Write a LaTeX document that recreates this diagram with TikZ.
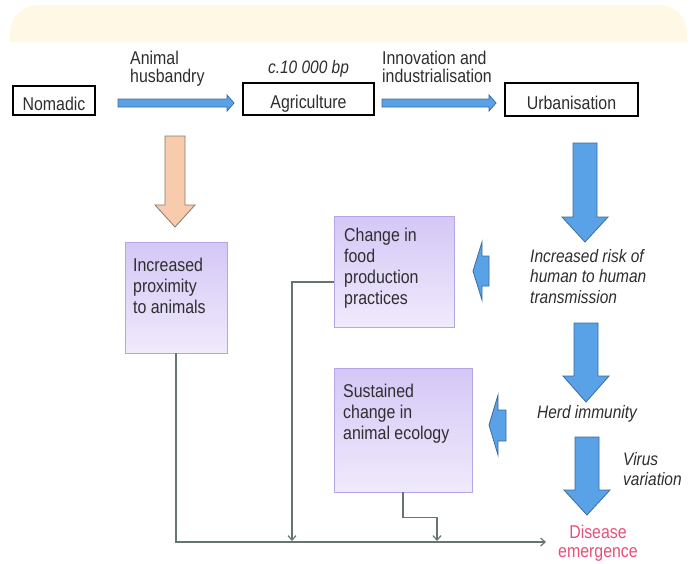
\documentclass[tikz,border=0pt]{standalone}
\usepackage{fontspec}
\setmainfont[FakeStretch=0.86]{Liberation Sans}
\usetikzlibrary{arrows.meta,calc}
\definecolor{bandc}{HTML}{FFF8E4}
\definecolor{txt}{HTML}{2E2E2E}
\definecolor{bluef}{HTML}{5AA2E8}
\definecolor{blued}{HTML}{3A6C9E}
\definecolor{orangef}{HTML}{F8CBAD}
\definecolor{oranged}{HTML}{857A6E}
\definecolor{ptop}{HTML}{D4C7F6}
\definecolor{pbot}{HTML}{F0EAFC}
\definecolor{pedge}{HTML}{B6A6E4}
\definecolor{connc}{HTML}{66766E}
\definecolor{pinkc}{HTML}{E8507A}
\tikzset{
  flowbox/.style={draw=black, line width=1.4pt, fill=white, inner sep=0pt,
    font=\fontsize{18.5}{20}\selectfont, text=txt},
  purplebox/.style={draw=pedge, line width=0.9pt, top color=ptop, bottom color=pbot, inner sep=0pt},
  lbl/.style={inner sep=0pt, align=left, anchor=north west, text=txt,
    font=\fontsize{18.5}{21}\selectfont, execute at begin node=\strut},
  toplbl/.style={lbl, font=\fontsize{18.5}{18}\selectfont},
  itlbl/.style={lbl, font=\fontsize{18}{20.5}\selectfont\itshape},
  bluearrow/.style={fill=bluef, draw=blued, line width=0.8pt, line join=miter},
  orangearrow/.style={fill=orangef, draw=oranged, line width=0.8pt, line join=miter},
  conn/.style={draw=connc, line width=1.2pt, -{Straight Barb[length=4.5pt,width=8pt]}},
}
\begin{document}
\begin{tikzpicture}[x=1pt,y=-1pt]
\useasboundingbox[fill=white] (0,0) rectangle (698,563);
% top band
\fill[bandc] (10,42) {[rounded corners=28pt] -- (10,5) -- (687,5)} -- (687,42) -- cycle;

% top row boxes
\node[flowbox, minimum width=82pt, minimum height=29pt, text height=24pt, text depth=5pt] (nomadic) at (54,100.5) {Nomadic};
\node[flowbox, minimum width=131pt, minimum height=32pt, text height=25pt, text depth=7pt] (agri) at (308.5,99) {Agriculture};
\node[flowbox, minimum width=133pt, minimum height=33pt, text height=26.5pt, text depth=6.5pt] (urban) at (571.5,99.5) {Urbanisation};

% top labels
\node[toplbl] (husb) at (130,50.4) {Animal\\husbandry};
\node[inner sep=0pt, anchor=base, text=txt, font=\fontsize{18}{20}\selectfont\itshape] (date) at (308.5,73) {c.10 000 bp};
\node[toplbl] (innov) at (382,50.4) {Innovation and\\industrialisation};

% horizontal block arrows
\draw[bluearrow] (118,99) -- (227,99) -- (227,95) -- (234,103) -- (227,111) -- (227,107) -- (118,107) -- cycle;
\draw[bluearrow] (382,99) -- (489,99) -- (489,95) -- (496,103) -- (489,111) -- (489,107) -- (382,107) -- cycle;

% orange down arrow
\draw[orangearrow] (165,136) -- (185,136) -- (185,205) -- (195,205) -- (175,227) -- (155,205) -- (165,205) -- cycle;

% purple boxes
\node[purplebox, minimum width=102pt, minimum height=111pt] (prox) at (176,297.5) {};
\node[lbl] (proxtext) at (133,258.3) {Increased\\proximity\\to animals};
\node[purplebox, minimum width=120pt, minimum height=111pt] (food) at (394,271.5) {};
\node[lbl] (foodtext) at (344,228.3) {Change in\\food\\production\\practices};
\node[purplebox, minimum width=138pt, minimum height=124pt] (sus) at (403,430) {};
\node[lbl] (sustext) at (343,384.3) {Sustained\\change in\\animal ecology};

% right column big arrows
\draw[bluearrow] (573,143) -- (597,143) -- (597,217) -- (608,217) -- (585,242) -- (562,217) -- (573,217) -- cycle;
\draw[bluearrow] (574,323) -- (598,323) -- (598,376) -- (609,376) -- (586,402) -- (563,376) -- (574,376) -- cycle;
\draw[bluearrow] (575,437) -- (599,437) -- (599,490) -- (610,490) -- (587,515) -- (564,490) -- (575,490) -- cycle;

% small left arrows
\draw[bluearrow] (489,256) -- (482,256) -- (482,242) -- (473,271) -- (482,300) -- (482,286) -- (489,286) -- cycle;
\draw[bluearrow] (506,410) -- (498,410) -- (498,395) -- (489,425) -- (498,455) -- (498,441) -- (506,441) -- cycle;

% right column labels
\node[itlbl] (risk) at (530,249) {Increased risk of\\human to human\\transmission};
\node[inner sep=0pt, anchor=base, text=txt, font=\fontsize{18}{20}\selectfont\itshape] (herd) at (587,418) {Herd immunity};
\node[itlbl] (virus) at (623,452) {Virus\\variation};
\node[inner sep=0pt, anchor=north, align=center, text=pinkc, font=\fontsize{18.5}{18.5}\selectfont, execute at begin node=\strut] (disease) at (598,525) {Disease\\emergence};

% connectors
\coordinate (dtip) at (546,542);
\coordinate (fj) at (292,282);
\coordinate (fe) at (292,541);
\coordinate (se) at (437,541);
\draw[conn] (prox.south) |- (dtip);
\draw[conn] (food.west |- fj) -| (fe);
\draw[conn] (sus.south) -- ++(0,25) -| (se);
\end{tikzpicture}
\end{document}
